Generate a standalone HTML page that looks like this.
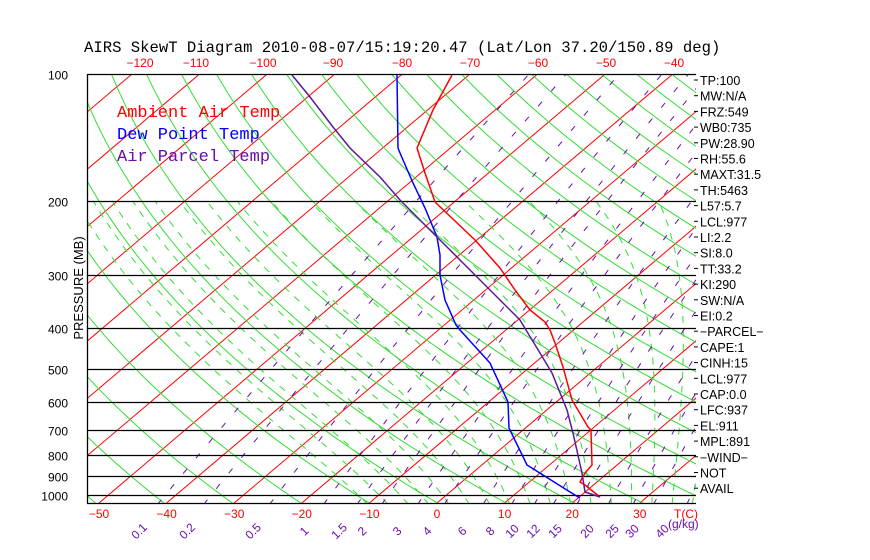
<!DOCTYPE html>
<html><head><meta charset="utf-8"><style>
body{margin:0;background:#fff;width:870px;height:560px;overflow:hidden}
svg{display:block;font-family:"Liberation Sans",sans-serif}
</style></head><body>
<svg id="s" width="870" height="560" xmlns="http://www.w3.org/2000/svg">
<defs><clipPath id="c"><rect x="87" y="74" width="609" height="429"/></clipPath></defs>
<g id="grid" clip-path="url(#c)"></g>
<g id="frame"></g>
<text x="84" y="52" font-size="15.6" font-family="Liberation Mono, monospace" fill="#000">AIRS SkewT Diagram 2010-08-07/15:19:20.47 (Lat/Lon 37.20/150.89 deg)</text>
<g font-family="Liberation Mono, monospace" font-size="17">
<text x="117" y="117" fill="#ff0000">Ambient Air Temp</text>
<text x="117" y="139" fill="#0000ff">Dew Point Temp</text>
<text x="117" y="161" fill="#6a0dad">Air Parcel Temp</text>
</g>
<text transform="translate(83,288) rotate(-90)" font-size="13" text-anchor="middle" fill="#000">PRESSURE (MB)</text>
<polyline fill="none" stroke="#ff0000" stroke-width="1.5" points="452,75 433,110 417,148 425,173 435,202 475,240 500,268 515,290 530,310 545,322 550,330 555,343 563,367 572,400 588,427 591,430 592,465 585,473 580,482 585,485 600,497"/>
<polyline fill="none" stroke="#0000ff" stroke-width="1.5" points="397,75 398,148 400,153 413,183 425,208 437,237 440,255 440,275 445,300 456,325 460,330 490,363 508,402 509,428 527,465 543,475 570,492 580,498"/>
<polyline fill="none" stroke="#5a1a9a" stroke-width="1.5" points="292,75 310,97 333,127 350,148 380,177 400,200 440,240 470,270 500,300 520,320 526,330 540,353 552,373 567,410 573,433 582,473 585,492 600,497"/>
</svg>
<script>
var NS="http://www.w3.org/2000/svg",g=document.getElementById('grid'),fr=document.getElementById('frame');
function yP(p){return 74+183*Math.log(p/100);}
function xT(T,y){return 437+6.76*T+1.18*(503-y);}
function el(par,tag,a,txt){var e=document.createElementNS(NS,tag);for(var k in a)e.setAttribute(k,a[k]);if(txt!=null)e.textContent=txt;par.appendChild(e);return e;}
function pl(pts,st,w,da){var a={points:pts.map(function(q){return q[0].toFixed(1)+','+q[1].toFixed(1)}).join(' '),fill:'none',stroke:st,'stroke-width':w};if(da)a['stroke-dasharray']=da;el(g,'polyline',a);}
for(var T=-200;T<=50;T+=10){el(g,'line',{x1:xT(T,503),y1:503,x2:xT(T,74),y2:74,stroke:'#ff0000','stroke-width':1});}
for(var th=180;th<=560;th+=10){var pts=[];for(var p=1050;p>=95;p-=10){var Tk=th*Math.pow(p/1000,0.286);var y=yP(p);pts.push([xT(Tk-273.15,y),y]);}pl(pts,'#33dd33',1);}
function es(Tc){return 6.112*Math.exp(17.67*Tc/(Tc+243.5));}
for(var T0=-10;T0<=42;T0+=3){var Tk=T0+273.15,pts=[];for(var p=1050;p>=200;p-=5){var y=yP(p);pts.push([xT(Tk-273.15,y),y]);var e=es(Tk-273.15),rs=0.622*e/(p-e);var d=(287*Tk+2.5e6*rs)/(1004+2.5e6*2.5e6*rs*0.622/(287*Tk*Tk))/p;Tk-=d*5;}pl(pts,'#33dd33',1,'7,7');}
var ws=[0.1,0.2,0.5,1,1.5,2,3,4,6,8,10,12,15,20,25,30,40];
ws.forEach(function(w){var pts=[];for(var p=1050;p>=100;p-=10){var e=w/1000*p/(0.622+w/1000),l=Math.log(e/6.112),Td=243.5*l/(17.67-l),y=yP(p);pts.push([xT(Td,y),y]);}pl(pts,'#6a0dad',1,'6,14');});
[100,200,300,400,500,600,700,800,900,1000].forEach(function(p){var y=Math.round(yP(p))+0.5;el(fr,'line',{x1:87,y1:y,x2:696,y2:y,stroke:'#000','stroke-width':1.3});el(fr,'text',{x:68,y:y+5,'font-size':12,'text-anchor':'end',fill:'#000'},String(p));});
el(fr,'line',{x1:87.5,y1:74,x2:87.5,y2:503,stroke:'#000','stroke-width':1.3});
el(fr,'line',{x1:87,y1:503.5,x2:696,y2:503.5,stroke:'#000','stroke-width':1.3});
for(var T=-50;T<=30;T+=10){el(fr,'text',{x:437+6.76*T,y:518,'font-size':12,'text-anchor':'middle',fill:'#ff0000'},(T<0?'\u2212'+(-T):String(T)));}
el(fr,'text',{x:686,y:518,'font-size':12,'text-anchor':'middle',fill:'#ff0000'},'T(C)');
[[-120,140],[-110,196],[-100,263],[-90,333],[-80,402],[-70,470],[-60,538],[-50,606],[-40,674]].forEach(function(a){el(fr,'text',{x:a[1],y:67,'font-size':12,'text-anchor':'middle',fill:'#ff0000'},'\u2212'+(-a[0]));});
var mx=[142,190,256,307,342,365,400,430,465,493,515,536,558,590,615,635,665];
ws.forEach(function(w,i){el(fr,'text',{transform:'translate('+mx[i]+',534) rotate(-45)','font-size':12,'text-anchor':'middle',fill:'#6a0dad'},String(w));});
el(fr,'text',{x:668,y:528,'font-size':12,fill:'#6a0dad'},'(g/kg)');
var R=['TP:100','MW:N/A','FRZ:549','WB0:735','PW:28.90','RH:55.6','MAXT:31.5','TH:5463','L57:5.7','LCL:977','LI:2.2','SI:8.0','TT:33.2','KI:290','SW:N/A','EI:0.2','\u2212PARCEL\u2212','CAPE:1','CINH:15','LCL:977','CAP:0.0','LFC:937','EL:911','MPL:891','\u2212WIND\u2212','NOT','AVAIL'];
R.forEach(function(t,i){var y=80+i*15.7;el(fr,'line',{x1:694,y1:y,x2:698,y2:y,stroke:'#000'});el(fr,'text',{x:700,y:y+5,'font-size':12.5,fill:'#000'},t);});
</script>
</body></html>
